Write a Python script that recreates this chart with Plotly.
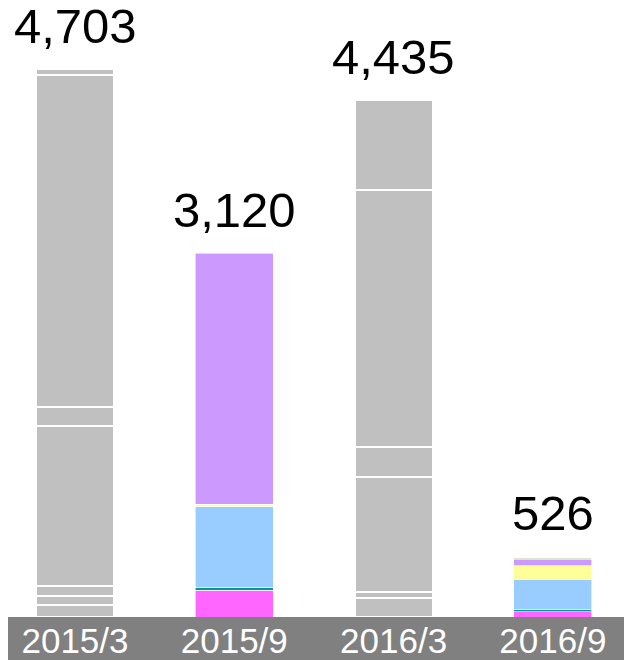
import plotly.graph_objects as go

categories = ["2015/3", "2015/9", "2016/3", "2016/9"]
total_labels = [4703, 3120, 4435, 526]

# gray stacked segments (bottom -> top)
gray_2015_3 = [103, 81, 86, 1372, 159, 2846, 56]
gray_2016_3 = [167, 47, 986, 257, 2206, 772]

# coloured stacked segments (bottom -> top)
color_names = ["magenta", "teal", "lightblue", "yellow", "purple", "green"]
color_hex = ["#FF66FF", "#009999", "#99CCFF", "#FFFF99", "#CC99FF", "#99CC66"]
colored_2015_9 = [231, 26, 690, 19, 2154, None]
colored_2016_9 = [45, 21, 257, 117, 51, 14]

fig = go.Figure()

for i in range(len(gray_2015_3)):
    y = [gray_2015_3[i], None,
         gray_2016_3[i] if i < len(gray_2016_3) else None, None]
    fig.add_trace(go.Bar(x=categories, y=y, marker=dict(color="#C0C0C0",
                  line=dict(color="white", width=2)), width=0.49,
                  showlegend=False, hoverinfo="skip"))

for i, name in enumerate(color_names):
    y = [None, colored_2015_9[i], None, colored_2016_9[i]]
    fig.add_trace(go.Bar(x=categories, y=y, name=name,
                  marker=dict(color=color_hex[i], line=dict(color="white", width=0.6)),
                  width=0.49, showlegend=False, hoverinfo="skip"))

for c, t in zip(categories, total_labels):
    fig.add_annotation(x=c, y=t, text=f"{t:,}", showarrow=False,
                       yanchor="bottom", yshift=14,
                       font=dict(family="Liberation Sans, Arial", size=49, color="black"))

fig.add_shape(type="rect", xref="paper", yref="paper", x0=0, x1=1.0,
              y0=-51/609, y1=0, fillcolor="#808080", line=dict(width=0), layer="below")

fig.update_layout(
    width=632, height=660, barmode="stack",
    margin=dict(l=0, r=0, t=0, b=51),
    paper_bgcolor="white", plot_bgcolor="rgba(0,0,0,0)",
    xaxis=dict(type="category", range=[-0.4206, 3.547], showgrid=False,
               showline=False, zeroline=False, ticks="",
               tickfont=dict(family="Liberation Sans, Arial", size=35, color="white")),
    yaxis=dict(range=[0, 5222], visible=False, showgrid=False, zeroline=False),
)

fig.write_html("out.html")
